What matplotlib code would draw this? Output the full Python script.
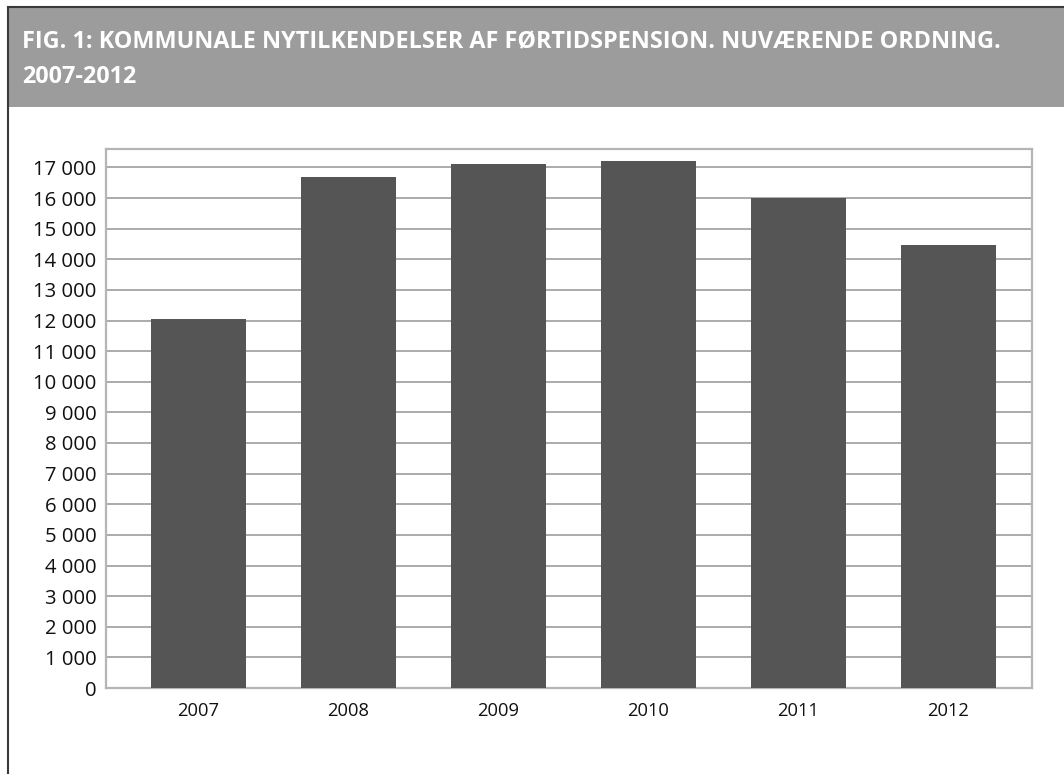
import matplotlib
matplotlib.use("Agg")
import matplotlib.pyplot as plt
from matplotlib.patches import Rectangle
from matplotlib.lines import Line2D
from matplotlib.ticker import FuncFormatter

# data
years = ['2007', '2008', '2009', '2010', '2011', '2012']
tilkendelser = [12040, 16700, 17100, 17200, 15990, 14460]
yticks = list(range(0, 17001, 1000))
title = ('FIG. 1: KOMMUNALE NYTILKENDELSER AF FØRTIDSPENSION. NUVÆRENDE ORDNING.\n'
         '2007-2012')

plt.rcParams['font.family'] = ['Open Sans', 'DejaVu Sans']

W, H = 1064, 774
fig = plt.figure(figsize=(W / 100, H / 100), dpi=100)

# header band and frame
fig.patches.append(Rectangle((8 / W, 1 - 107 / H), 1, 100 / H, transform=fig.transFigure,
                             facecolor='#9b9c9b', edgecolor='none', zorder=0))
fig.lines.append(Line2D([7.5 / W, 7.5 / W], [0, 1 - 7 / H], transform=fig.transFigure,
                        color='#3a3a3a', lw=1.5))
fig.lines.append(Line2D([7.5 / W, 1], [1 - 7 / H, 1 - 7 / H], transform=fig.transFigure,
                        color='#3a3a3a', lw=1.5))
fig.text(22 / W, 1 - 60 / H, title, color='white', fontsize=16.8, fontweight='bold',
         ha='left', va='center', linespacing=1.6)

ax = fig.add_axes([106 / W, 1 - 688 / H, (1032 - 106) / W, (688 - 149) / H])
x = list(range(len(years)))
ax.bar(x, tilkendelser, width=0.633, color='#555555', zorder=3)

ax.set_xlim(-0.617, 5.557)
ax.set_ylim(0, 17600)
ax.set_yticks(yticks)
ax.yaxis.set_major_formatter(FuncFormatter(lambda v, p: f'{int(v):,}'.replace(',', ' ')))
ax.set_xticks(x)
ax.set_xticklabels(years)
ax.grid(axis='y', color='#ababab', lw=1.4, zorder=1)
ax.tick_params(axis='y', length=0, pad=7, labelsize=14.6, labelcolor='#111111')
ax.tick_params(axis='x', length=0, pad=10, labelsize=13.2, labelcolor='#111111')
for s in ax.spines.values():
    s.set_color('#b5b5b5')
    s.set_linewidth(1.6)

fig.savefig('out.png', dpi=100)
